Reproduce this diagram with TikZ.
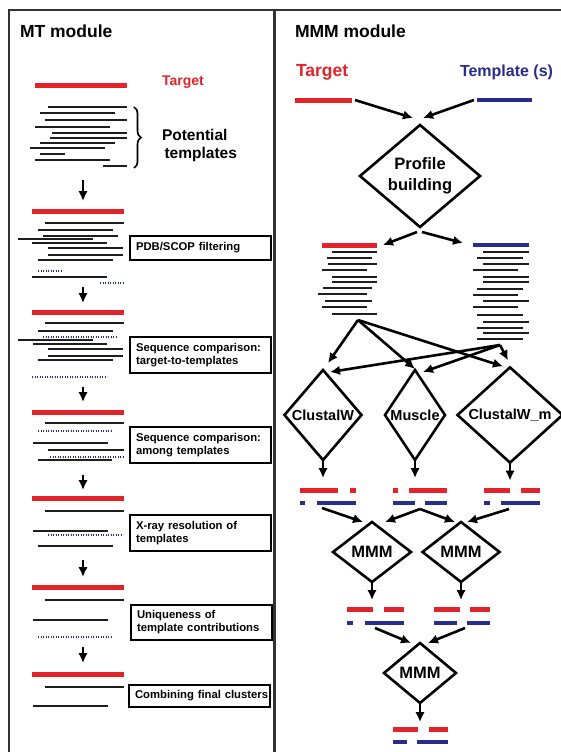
\documentclass[tikz,border=0pt]{standalone}
\usepackage{fontspec}
\setmainfont{Liberation Sans}
\usepackage{tikz}
\usetikzlibrary{shapes,arrows.meta,positioning,calc,decorations.pathreplacing}
\definecolor{tgtred}{RGB}{226,36,42}
\definecolor{tplblue}{RGB}{40,44,140}
\definecolor{seqgray}{RGB}{30,30,30}
\definecolor{framegray}{RGB}{50,50,50}

\begin{document}
\begin{tikzpicture}[x=1pt,y=-1pt,outer sep=0pt,inner sep=2pt]
        \tikzset{target/.style={line width=5pt,tgtred}}
        \tikzset{template/.style={line width=4.5pt,tplblue}}
        \tikzset{hit/.style={line width=1.9pt,seqgray}}
        \tikzset{dropped/.style={line width=1.6pt,tplblue,dash pattern=on 1.3pt off 1.2pt}}
        \tikzset{flow/.style={line width=2.6pt,-{Latex[length=10pt,width=9.5pt]}}}
        \tikzset{filterbox/.style={draw,line width=2pt,anchor=west,minimum width=141pt,text width=129pt,align=left,inner xsep=6pt,font=\fontsize{11.3}{13.5}\selectfont\bfseries}}
        \tikzset{method/.style={shape=diamond,draw,line width=2.6pt,inner sep=0pt,align=center,font=\fontsize{14.5}{16}\selectfont\bfseries}}
        \tikzset{modtitle/.style={anchor=base west,inner sep=0pt,font=\fontsize{17.5}{19}\selectfont\bfseries}}

        \useasboundingbox (0,0) rectangle (560,752);
        \fill[white] (0,0) rectangle (560,752);
        \draw[framegray,line width=2.2pt] (9,770) -- (9,10) -- (575,10);
        \draw[framegray,line width=3pt] (274,10) -- (274,770);

        % MT module
        \node[modtitle] (mttitle) at (20,38) {MT module};
        \draw[target] (35,85) -- (127,85);
        \node[modtitle,tgtred,font=\fontsize{14}{16}\selectfont\bfseries] (mttarget) at (162,85) {Target};
        \foreach \xa/\xb/\y in {48/127/107,40/115/113,45/127/120,35/110/127,52/127/133,50/127/138,40/115/143,30/105/148,40/65/154,35/110/160,103/127/166}
            \draw[hit] (\xa,\y) -- (\xb,\y);
        \draw[line width=1.7pt,decorate,decoration={brace,amplitude=7pt}] (134,107) -- (134,168);
        \node[anchor=west,align=left,inner sep=0pt,font=\fontsize{15.5}{18}\selectfont\bfseries] (potential) at (162,145) {Potential\\\,templates};

        \foreach \ya/\yb [count=\i] in {180/201,287/303,387/402,475/490,560/577,647/663} {
            \coordinate (down\i) at (83,\ya);
            \coordinate (next\i) at (83,\yb);
            \draw[flow] (down\i) -- (next\i);
        }

        % stage 1
        \draw[target] (32,211) -- (124,211);
        \foreach \xa/\xb/\y in {45/124/223,38/113/230,43/118/236,18/93/239,32/107/243,48/123/248,48/123/255,38/113/260,32/107/277}
            \draw[hit] (\xa,\y) -- (\xb,\y);
        \foreach \xa/\xb/\y in {38/62/271,100/124/283}
            \draw[dropped] (\xa,\y) -- (\xb,\y);
        \node[filterbox,minimum height=24pt] (pdbfilter) at (130,248) {PDB/SCOP filtering};

        % stage 2
        \draw[target] (32,312) -- (124,312);
        \foreach \xa/\xb/\y in {45/124/323,38/113/331,18/93/340,33/107/344,48/123/349,48/123/356,38/113/360}
            \draw[hit] (\xa,\y) -- (\xb,\y);
        \foreach \xa/\xb/\y in {43/117/337,32/107/377}
            \draw[dropped] (\xa,\y) -- (\xb,\y);
        \node[filterbox,minimum height=36pt] (seqtarget) at (130,355) {Sequence comparison:\\target-to-templates};

        % stage 3
        \draw[target] (32,412) -- (124,412);
        \foreach \xa/\xb/\y in {45/124/423,33/108/443,48/124/450,38/112/460}
            \draw[hit] (\xa,\y) -- (\xb,\y);
        \foreach \xa/\xb/\y in {38/112/431,50/123/457}
            \draw[dropped] (\xa,\y) -- (\xb,\y);
        \node[filterbox,minimum height=36pt] (seqamong) at (130,445) {Sequence comparison:\\among templates};

        % stage 4
        \draw[target] (32,498) -- (124,498);
        \foreach \xa/\xb/\y in {45/124/511,33/108/531,38/113/546}
            \draw[hit] (\xa,\y) -- (\xb,\y);
        \draw[dropped] (48,535) -- (123,535);
        \node[filterbox,minimum height=36pt] (xray) at (130,533) {X-ray resolution of\\templates};

        % stage 5
        \draw[target] (32,587) -- (124,587);
        \foreach \xa/\xb/\y in {45/124/600,33/108/620}
            \draw[hit] (\xa,\y) -- (\xb,\y);
        \draw[dropped] (38,637) -- (112,637);
        \node[filterbox,minimum height=35pt] (unique) at (131,622) {Uniqueness of\\template contributions};

        % stage 6
        \draw[target] (32,674) -- (124,674);
        \foreach \xa/\xb/\y in {45/124/687,33/108/706}
            \draw[hit] (\xa,\y) -- (\xb,\y);
        \node[filterbox,minimum height=22pt] (combine) at (129,696) {\mbox{Combining final clusters}};

        % MMM module
        \node[modtitle] (mmmtitle) at (295,38) {MMM module};
        \node[modtitle,tgtred] (mmmtarget) at (296,77) {Target};
        \node[modtitle,tplblue,font=\fontsize{16}{18}\selectfont\bfseries] (mmmtemplate) at (460,77) {Template (s)};
        \draw[target] (295,100) -- (352,100);
        \draw[template] (477,100) -- (532,100);
        \coordinate (tgtbar) at (355,100);
        \coordinate (tplbar) at (474,100);

        \node[method,minimum width=120pt,minimum height=102pt,font=\fontsize{16.5}{21}\selectfont\bfseries] (profile) at (420,176) {Profile\\building};
        \draw[flow] (tgtbar) -- ([xshift=-7pt,yshift=7pt]profile.north);
        \draw[flow] (tplbar) -- ([xshift=3pt,yshift=7pt]profile.north);

        \coordinate (lclus) at (383,245);
        \coordinate (rclus) at (463,243);
        \draw[flow] ([xshift=-3pt,yshift=-5pt]profile.south) -- (lclus);
        \draw[flow] ([xshift=2pt,yshift=-5pt]profile.south) -- (rclus);

        \draw[target] (322,245) -- (377,245);
        \foreach \xa/\xb/\y in {332/377/252,327/372/258,328/377/264,322/367/270,332/377/277,332/377/282,323/372/288,318/367/294,325/372/301,322/367/307,332/377/314}
            \draw[hit] (\xa,\y) -- (\xb,\y);
        \draw[template] (473,245) -- (529,245);
        \foreach \xa/\xb/\y in {483/529/252,477/523/258,483/529/264,473/518/270,483/529/277,483/529/282,477/523/289,473/518/295,483/529/301,473/518/307,477/523/315,483/529/322,477/523/328,483/529/333,477/523/339}
            \draw[hit] (\xa,\y) -- (\xb,\y);

        \node[method,minimum width=77pt,minimum height=90pt] (clustalw) at (323,415) {ClustalW};
        \node[method,minimum width=60pt,minimum height=90pt] (muscle) at (415,415) {Muscle};
        \node[method,minimum width=105pt,minimum height=90pt] (clustalwm) at (510,415) {ClustalW\_m};

        \coordinate (lsrc) at (358,320);
        \coordinate (rsrc) at (500,345);
        \draw[flow] (lsrc) -- ([xshift=5pt,yshift=7pt]clustalw.north);
        \draw[flow] (lsrc) -- ([yshift=1pt]muscle.north);
        \draw[flow] (lsrc) -- ([xshift=-7pt,yshift=1pt]clustalwm.north);
        \draw[flow] (rsrc) -- ([xshift=7pt,yshift=-2pt]clustalw.north);
        \draw[flow] (rsrc) -- ([xshift=8pt,yshift=-2pt]muscle.north);
        \draw[flow] (rsrc) -- ([xshift=-2pt,yshift=7pt]clustalwm.north);

        \foreach \m in {clustalw,muscle,clustalwm}
            \draw[flow] (\m.south) -- ++(0,18);

        % first alignments
        \foreach \xa/\xb in {300/338,350/356,393/398,409/447,484/510,521/540}
            \draw[target] (\xa,490) -- (\xb,490);
        \foreach \xa/\xb in {300/305,317/356,393/415,425/447,484/490,501/540}
            \draw[template] (\xa,503) -- (\xb,503);

        \node[method,minimum width=78pt,minimum height=60pt,font=\fontsize{16.5}{18}\selectfont\bfseries] (mmmleft) at (372,552) {MMM};
        \node[method,minimum width=77pt,minimum height=60pt,font=\fontsize{16.5}{18}\selectfont\bfseries] (mmmright) at (461,552) {MMM};

        \coordinate (aln1) at (322,508);
        \coordinate (aln2) at (420,509);
        \coordinate (aln3) at (509,509);
        \draw[flow] (aln1) -- ([xshift=-9pt]mmmleft.north);
        \draw[flow] (aln2) -- ([xshift=13pt]mmmleft.north);
        \draw[flow] (aln2) -- ([xshift=-6pt]mmmright.north);
        \draw[flow] (aln3) -- ([xshift=6pt]mmmright.north);
        \draw[flow] (mmmleft.south) -- ++(0,18);
        \draw[flow] (mmmright.south) -- ++(0,18);

        % second alignments
        \foreach \xa/\xb in {347/373,384/404,434/460,470/490}
            \draw[target] (\xa,609) -- (\xb,609);
        \foreach \xa/\xb in {347/353,365/404,434/457,467/490}
            \draw[template] (\xa,623) -- (\xb,623);

        \node[method,minimum width=72pt,minimum height=60pt,font=\fontsize{16.5}{18}\selectfont\bfseries] (mmmfinal) at (420,673) {MMM};
        \coordinate (lvl1) at (375,628);
        \coordinate (lvl2) at (465,628);
        \draw[flow] (lvl1) -- ([xshift=-9pt]mmmfinal.north);
        \draw[flow] (lvl2) -- ([xshift=8pt]mmmfinal.north);
        \draw[flow] (mmmfinal.south) -- ++(0,19);

        % final alignment
        \foreach \xa/\xb in {393/418,429/448}
            \draw[target] (\xa,729) -- (\xb,729);
        \foreach \xa/\xb in {393/407,417/448}
            \draw[template] (\xa,742) -- (\xb,742);
    \end{tikzpicture}
\end{document}
